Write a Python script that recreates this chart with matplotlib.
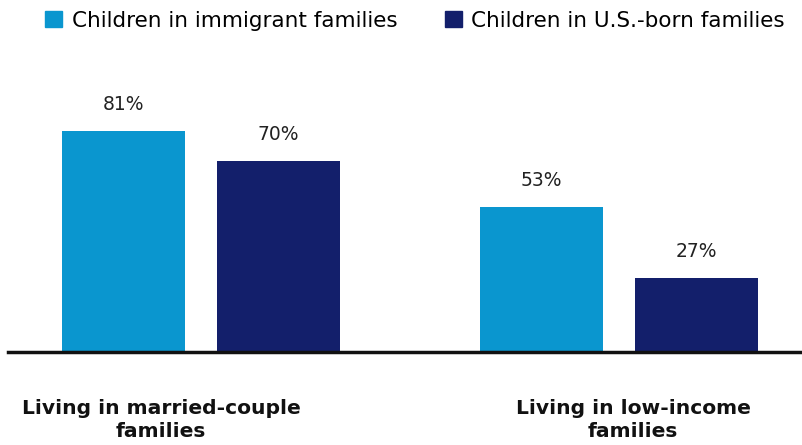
import matplotlib
matplotlib.use("Agg")
import matplotlib.pyplot as plt
from matplotlib.patches import Patch

plt.rcParams['font.family'] = ['DejaVu Sans']

# data
categories = ["Living in married-couple\nfamilies", "Living in low-income\nfamilies"]
series_names = ["Children in immigrant families", "Children in U.S.-born families"]
immigrant = [81, 53]
us_born = [70, 27]
colors = ["#0A96CF", "#131F6B"]

fig = plt.figure(figsize=(8.03, 4.45), dpi=100)
ax = fig.add_axes([0, (445 - 352) / 445, 1, 352 / 445])

x = [0, 1]
w = 0.294
off = 0.185
b1 = ax.bar([i - off for i in x], immigrant, w, color=colors[0])
b2 = ax.bar([i + off for i in x], us_born, w, color=colors[1])

for bars, vals in [(b1, immigrant), (b2, us_born)]:
    for b, v in zip(bars, vals):
        ax.text(b.get_x() + b.get_width() / 2, v + 6.3, f"{v}%",
                ha="center", va="bottom", fontsize=13.5, color="#222222")

ax.set_xlim(-201 / 418, 602 / 418)
ax.set_ylim(0, 129)
for s in ["top", "right", "left"]:
    ax.spines[s].set_visible(False)
ax.spines["bottom"].set_linewidth(2.5)
ax.spines["bottom"].set_color("#111111")
ax.spines["bottom"].set_bounds(-193 / 418, 602 / 418)
ax.set_yticks([])
ax.set_xticks([])

# category labels
label_x = [161 / 803, 633 / 803]
for lx, c in zip(label_x, categories):
    fig.text(lx, 1 - 420 / 445, c, ha="center", va="center", fontsize=14.6,
             fontweight="bold", color="#111111", linespacing=1.3)

handles = [Patch(color=colors[0]), Patch(color=colors[1])]
fig.legend(handles, series_names, loc="upper left", bbox_to_anchor=(36 / 803, 1 - 2 / 445),
           ncol=2, frameon=False, fontsize=15.5, handlelength=0.8, handleheight=0.8,
           handletextpad=0.45, columnspacing=2.2, borderaxespad=0)

fig.savefig("out.png", dpi=100)
